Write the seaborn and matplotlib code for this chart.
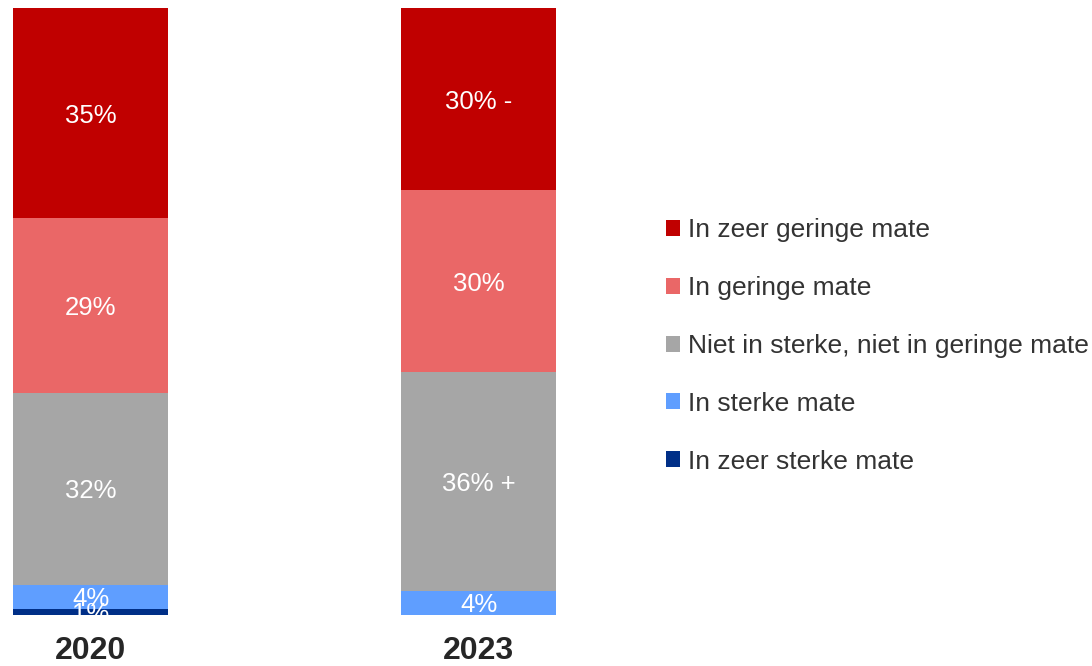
import numpy as np
import pandas as pd
import matplotlib
matplotlib.use("Agg")
import matplotlib.pyplot as plt
from matplotlib.patches import Patch
import seaborn as sns

years = ["2020", "2023"]
categories = ["In zeer sterke mate", "In sterke mate",
              "Niet in sterke, niet in geringe mate", "In geringe mate",
              "In zeer geringe mate"]
zeer_sterk = [1, 0]
sterk = [4, 4]
neutraal = [32, 36]
gering = [29, 30]
zeer_gering = [35, 30]
labels_2020 = ["1%", "4%", "32%", "29%", "35%"]
labels_2023 = ["", "4%", "36% +", "30%", "30% -"]
colors = ["#002F87", "#5F9EFF", "#A6A6A6", "#EA6767", "#C00000"]

sns.set_theme(style="white")
plt.rcParams["font.family"] = ["Liberation Sans", "DejaVu Sans"]

series = [zeer_sterk, sterk, neutraal, gering, zeer_gering]
vals = np.array(series, dtype=float)  # shape (5, 2)
pct = vals / vals.sum(axis=0) * 100
cum = np.cumsum(pct, axis=0)

fig = plt.figure(figsize=(10.92, 6.66), dpi=100)
ax = fig.add_axes([0, (666 - 615) / 666, 600 / 1092, (615 - 8) / 666])

# draw stacked bars from top layer (largest cumulative) down
for i in range(len(categories) - 1, -1, -1):
    df = pd.DataFrame({"year": years, "value": cum[i]})
    sns.barplot(data=df, x="year", y="value", color=colors[i], width=0.4,
                saturation=1, ax=ax, linewidth=0, errorbar=None)

all_labels = [labels_2020, labels_2023]
for j in range(len(years)):
    for i in range(len(categories)):
        lab = all_labels[j][i]
        if not lab:
            continue
        yc = cum[i, j] - pct[i, j] / 2
        ax.text(j, yc, lab, ha="center", va="center_baseline", color="white",
                fontsize=18.5, clip_on=True)

x_left = -0.2 - 13 / 388
ax.set_xlim(x_left, x_left + 600 / 388)
ax.set_ylim(0, 100)
ax.set_xlabel("")
ax.set_ylabel("")
ax.set_yticks([])
ax.tick_params(axis="x", length=0, pad=15, labelsize=23, labelcolor="#262626")
for t in ax.get_xticklabels():
    t.set_fontweight("bold")
for s in ax.spines.values():
    s.set_visible(False)

handles = [Patch(facecolor=colors[i], edgecolor="none", label=categories[i])
           for i in range(len(categories) - 1, -1, -1)]
fig.legend(handles=handles, loc="center left", bbox_to_anchor=(655 / 1092, 1 - 346 / 666),
           frameon=False, fontsize=19, labelcolor="#333333",
           handlelength=0.55, handleheight=0.55, handletextpad=0.3,
           labelspacing=1.28, borderaxespad=0)

fig.savefig("out.png", dpi=100)
